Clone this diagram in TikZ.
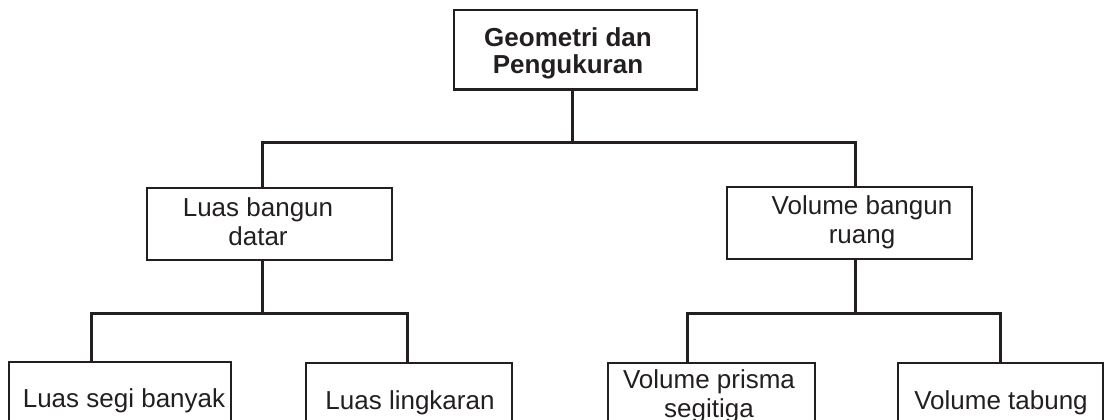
\documentclass[tikz,border=0pt]{standalone}
\usepackage{fontspec}
\setmainfont{Liberation Sans}
\definecolor{ink}{RGB}{35,31,32}
\begin{document}
\begin{tikzpicture}[x=1pt,y=-1pt,
  box/.style={draw=ink, line width=2.2pt, rectangle, anchor=north west, inner sep=0pt, outer sep=0pt},
  lbl/.style={text=ink, align=center, inner sep=0pt, anchor=base, font=\fontsize{26}{29}\selectfont},
  toplbl/.style={lbl, font=\fontsize{26}{27}\selectfont\bfseries},
  conn/.style={draw=ink, line width=3pt}]
\useasboundingbox (0,0) rectangle (1105,420);
\clip (0,0) rectangle (1105,420);
% boxes
\node[box, minimum width=243pt, minimum height=79.5pt] (top) at (454,10) {};
\node[box, minimum width=245pt, minimum height=72pt] (lbd) at (147,188) {};
\node[box, minimum width=245pt, minimum height=72pt] (vbr) at (727,187) {};
\node[box, minimum width=222pt, minimum height=80pt] (lsb) at (9,362) {};
\node[box, minimum width=206pt, minimum height=80pt] (ll) at (306,363) {};
\node[box, minimum width=207pt, minimum height=80pt] (vps) at (608,363) {};
\node[box, minimum width=205pt, minimum height=80pt] (vt) at (898,363) {};
% labels (base anchor = baseline of last line)
\node[toplbl] (ttop) at (568,74) {Geometri dan\\Pengukuran};
\node[lbl] (tlbd) at (258,245) {Luas bangun\\datar};
\node[lbl] (tvbr) at (862,243) {Volume bangun\\ruang};
\node[lbl] (tlsb) at (124,407) {Luas segi banyak};
\node[lbl] (tll) at (410,409) {Luas lingkaran};
\node[lbl] (tvps) at (709,417) {Volume prisma\\segitiga};
\node[lbl] (tvt) at (1001,409) {Volume tabung};
% junctions
\coordinate (j0) at (572,142);
\coordinate (jl) at (262,142);
\coordinate (jr) at (855,142);
\coordinate (jl2) at (262,313);
\coordinate (jl2a) at (91,313);
\coordinate (jl2b) at (407,313);
\coordinate (jr2) at (855,313);
\coordinate (jr2a) at (687,313);
\coordinate (jr2b) at (1000,313);
% connectors
\draw[conn] (top.south -| j0) -- (j0);
\draw[conn] (lbd.north -| jl) -- (jl) -- (jr) -- (vbr.north -| jr);
\draw[conn] (lbd.south -| jl2) -- (jl2);
\draw[conn] (lsb.north -| jl2a) -- (jl2a) -- (jl2b) -- (ll.north -| jl2b);
\draw[conn] (vbr.south -| jr2) -- (jr2);
\draw[conn] (vps.north -| jr2a) -- (jr2a) -- (jr2b) -- (vt.north -| jr2b);
\end{tikzpicture}
\end{document}
